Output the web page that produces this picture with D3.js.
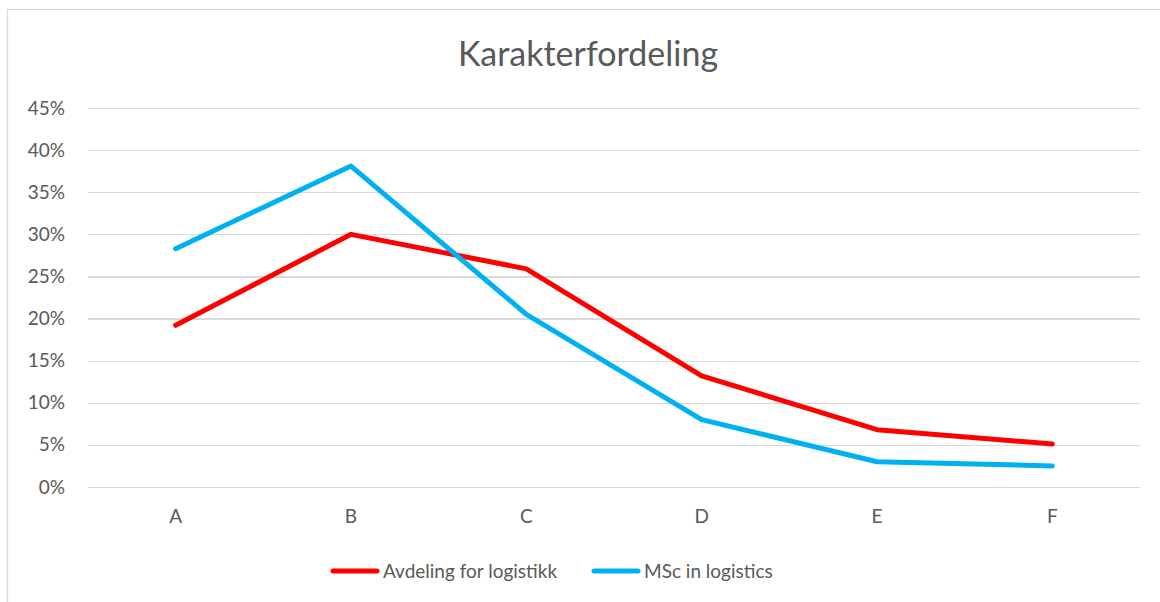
<!DOCTYPE html>
<meta charset="utf-8">
<style>
body { margin: 0; background: #fff; font-family: Lato, "Open Sans", sans-serif; }
.grid line { stroke: #d9d9d9; stroke-width: 1.3; shape-rendering: crispEdges; }
.grid path { display: none; }
.axis text { fill: #595959; font-size: 19px; font-family: Lato, sans-serif; }
.axis path, .axis line { display: none; }
.line { fill: none; stroke-width: 5; stroke-linecap: round; stroke-linejoin: round; }
</style>
<body>
<script src="https://d3js.org/d3.v7.min.js"></script>
<script>

var categories = ["A", "B", "C", "D", "E", "F"];
var avdeling = [0.192, 0.300, 0.259, 0.132, 0.068, 0.051];
var msc = [0.283, 0.381, 0.205, 0.080, 0.030, 0.025];
var yTicks = [0, 0.05, 0.10, 0.15, 0.20, 0.25, 0.30, 0.35, 0.40, 0.45];
var seriesNames = ["Avdeling for logistikk", "MSc in logistics"];
var colors = ["#ff0000", "#00b0f0"];

var W = 1160, H = 602;
var margin = {top: 108, right: 20, bottom: 115, left: 88},
    width = 1140 - margin.left,
    height = 487 - margin.top;

var svg = d3.select("body").append("svg")
    .attr("width", W)
    .attr("height", H);

// outer chart border
svg.append("rect")
    .attr("x", 7.5).attr("y", 9.5)
    .attr("width", W + 10).attr("height", H + 10)
    .attr("fill", "#fff")
    .attr("stroke", "#d9d9d9")
    .attr("stroke-width", 1.3);

svg.append("text")
    .attr("x", 588).attr("y", 66)
    .attr("text-anchor", "middle")
    .attr("fill", "#595959")
    .style("font-size", "34px")
    .text("Karakterfordeling");

var g = svg.append("g")
    .attr("transform", "translate(" + margin.left + "," + margin.top + ")");

var x = d3.scaleBand().domain(categories).range([0, width]);
var y = d3.scaleLinear().domain([0, 0.45]).range([height, 0]);

g.append("g")
    .attr("class", "grid")
    .call(d3.axisLeft(y).tickValues(yTicks).tickSize(-width).tickFormat(""));

g.append("g")
    .attr("class", "axis")
    .call(d3.axisLeft(y).tickValues(yTicks).tickSize(0).tickPadding(23).tickFormat(d3.format(".0%")));

g.append("g")
    .attr("class", "axis")
    .attr("transform", "translate(0," + height + ")")
    .call(d3.axisBottom(x).tickSize(0).tickPadding(23));

var line = d3.line()
    .x(function(d, i) { return x(categories[i]) + x.bandwidth() / 2; })
    .y(function(d) { return y(d); });

[avdeling, msc].forEach(function(s, i) {
  g.append("path")
      .attr("class", "line")
      .attr("d", line(s))
      .attr("stroke", colors[i]);
});

// legend
var legendX = [331, 592];
var legend = svg.append("g").attr("transform", "translate(0,571)");
seriesNames.forEach(function(name, i) {
  legend.append("line")
      .attr("x1", legendX[i] + 2).attr("x2", legendX[i] + 46)
      .attr("y1", 0).attr("y2", 0)
      .attr("stroke", colors[i])
      .attr("stroke-width", 5)
      .attr("stroke-linecap", "round");
  legend.append("text")
      .attr("x", legendX[i] + 52).attr("y", 7)
      .attr("fill", "#595959")
      .style("font-size", "19px")
      .text(name);
});

</script>
</body>
